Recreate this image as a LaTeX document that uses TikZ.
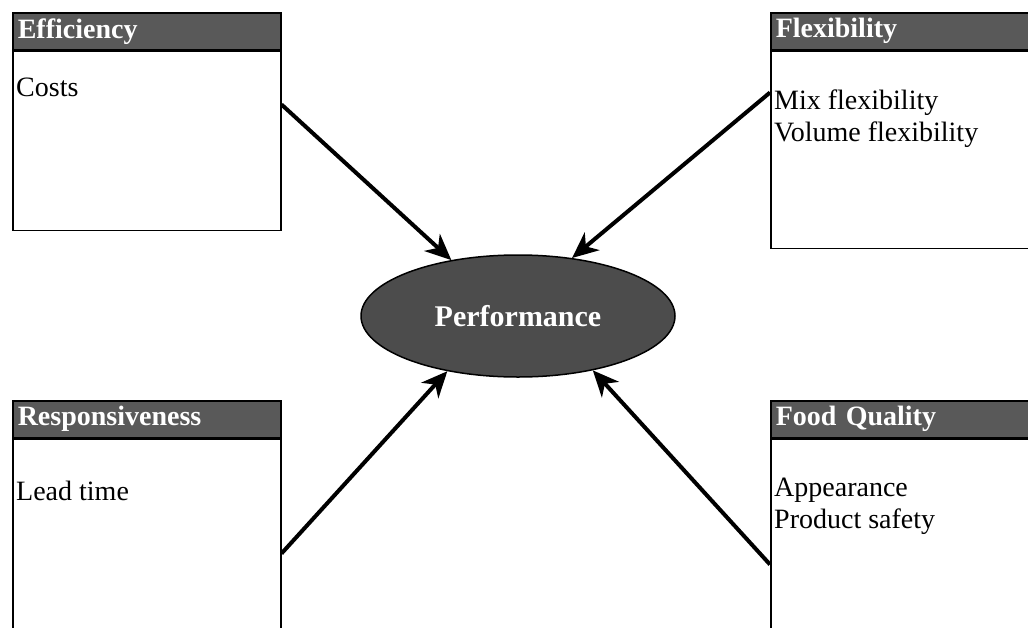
\documentclass[tikz,border=0pt]{standalone}
\usepackage{fontspec}
\setmainfont{Liberation Serif}
\usetikzlibrary{shapes.geometric,arrows.meta}
\begin{document}
\begin{tikzpicture}[x=1pt,y=1pt,
        head/.style={draw,line width=1.5pt,fill=black!65,text=white,font=\fontsize{28}{32}\selectfont\bfseries,
            anchor=north west,inner xsep=5pt,inner ysep=0pt,minimum height=37pt,text width=#1,align=left},
        body/.style={draw,line width=1.5pt,anchor=north west,inner sep=0pt,minimum width=#1},
        item/.style={font=\fontsize{28}{32}\selectfont,anchor=west,inner sep=0pt,align=left},
        link/.style={line width=4pt,-{Stealth[length=26pt,width=23pt,inset=8pt]}}]
        \useasboundingbox (0,0) rectangle (1028,-627);
        \clip (0,0) rectangle (1028,-627);
        \node[head=258pt] (effhead) at (12,-12) {Efficiency};
        \node[body=268pt,minimum height=179pt] (effbody) at (effhead.south west) {};
        \node[item] (costs) at ([xshift=4pt,yshift=-37pt]effbody.north west) {Costs};
        \node[head=290pt] (flexhead) at (770,-12) {Flexibility};
        \node[body=300pt,minimum height=197pt] (flexbody) at (flexhead.south west) {};
        \node[item] (flexitems) at ([xshift=4pt,yshift=-68pt]flexbody.north west) {Mix flexibility\\Volume flexibility};
        \node[head=258pt] (resphead) at (12,-400) {Responsiveness};
        \node[body=268pt,minimum height=240pt] (respbody) at (resphead.south west) {};
        \node[item] (leadtime) at ([xshift=4pt,yshift=-52pt]respbody.north west) {Lead time};
        \node[head=290pt] (foodhead) at (770,-400) {Food Quality};
        \node[body=300pt,minimum height=240pt] (foodbody) at (foodhead.south west) {};
        \node[item] (fooditems) at ([xshift=4pt,yshift=-68pt]foodbody.north west) {Appearance\\Product safety};
        \node[ellipse,draw,line width=1.5pt,fill=black!70,minimum width=314pt,minimum height=122pt,inner sep=0pt,
            text=white,font=\fontsize{30}{36}\selectfont\bfseries] (perf) at (518,-316) {Performance};
        \draw[link] ([yshift=-54pt]effbody.north east) -- (perf.140);
        \draw[link] ([yshift=-42pt]flexbody.north west) -- (perf.47);
        \draw[link] ([yshift=-115pt]respbody.north east) -- (perf.218);
        \draw[link] ([yshift=-126pt]foodbody.north west) -- (perf.-36);
    \end{tikzpicture}
\end{document}
